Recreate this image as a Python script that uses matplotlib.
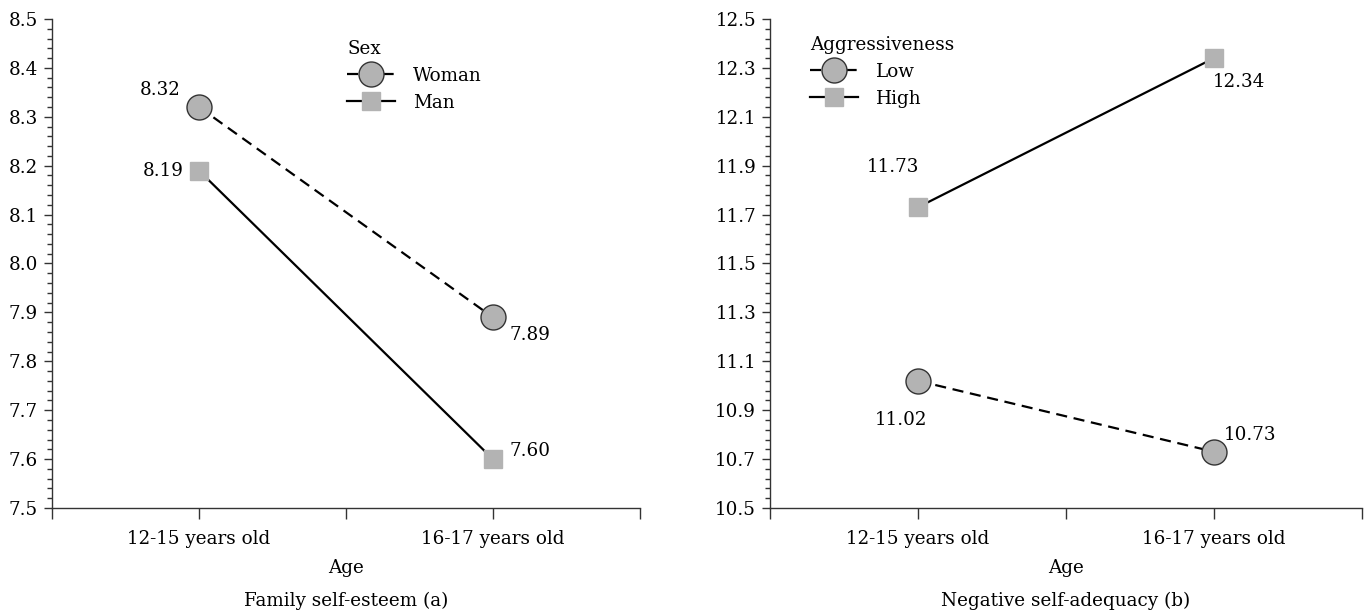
import numpy as np
import matplotlib.pyplot as plt

plt.rcParams['font.family'] = ['DejaVu Serif']
plt.rcParams['font.size'] = 13.2

# dados
idades = ["12-15 years old", "16-17 years old"]
pos = [1, 3]

# painel (a) - autoestima familiar
mulher = [8.32, 7.89]
homem = [8.19, 7.60]

# painel (b) - autoadequacao negativa
baixa = [11.02, 10.73]
alta = [11.73, 12.34]

cinza = "#b3b3b3"
escuro = "#333333"

fig = plt.figure(figsize=(13.64, 6.13), dpi=100)
ax1 = fig.add_axes([0.0381, 0.1713, 0.431, 0.7977])
ax2 = fig.add_axes([0.5645, 0.1713, 0.434, 0.7977])


def estilo(ax, ylim, major, minor):
    ax.set_xlim(0, 4)
    ax.set_ylim(*ylim)
    ax.set_xticks([0, 1, 2, 3, 4])
    ax.set_xticklabels(["", idades[0], "", idades[1], ""])
    ax.set_yticks(np.arange(ylim[0], ylim[1] + 1e-9, major))
    ax.set_yticks(np.arange(ylim[0], ylim[1] + 1e-9, minor), minor=True)
    ax.yaxis.set_major_formatter(lambda v, p: f"{v:.1f}")
    for s in ["top", "right"]:
        ax.spines[s].set_visible(False)
    for s in ["left", "bottom"]:
        ax.spines[s].set_color(escuro)
        ax.spines[s].set_linewidth(1.0)
    ax.tick_params(axis="x", length=8, width=1, color=escuro, pad=8)
    ax.tick_params(axis="y", which="major", length=6, width=1, color=escuro, pad=4)
    ax.tick_params(axis="y", which="minor", length=3.5, width=1, color=escuro)
    ax.set_xlabel("Age", labelpad=8)


def rotulo(ax, x, y, dx, dy):
    ax.annotate(f"{y:.2f}", (x, y), xytext=(dx, dy), textcoords="offset points",
                ha="center", va="center")


tracejado = (0, (5, 3))

# painel (a)
estilo(ax1, (7.5, 8.5), 0.1, 0.02)
ax1.plot(pos, mulher, color="black", lw=1.6, ls=tracejado, marker="o", ms=18,
         mfc=cinza, mec=escuro, mew=1, label="Woman")
ax1.plot(pos, homem, color="black", lw=1.6, marker="s", ms=13,
         mfc=cinza, mec=cinza, label="Man")
rotulo(ax1, pos[0], mulher[0], -28, 12)
rotulo(ax1, pos[1], mulher[1], 27, -13)
rotulo(ax1, pos[0], homem[0], -26, 0)
rotulo(ax1, pos[1], homem[1], 27, 6)
leg1 = ax1.legend(title="Sex", loc="upper left", bbox_to_anchor=(0.49, 0.972),
                  frameon=False, handlelength=2.6, labelspacing=0.48,
                  borderaxespad=0, handletextpad=1.0)
leg1._legend_box.align = "left"
ax1.text(0.5, -0.172, "Family self-esteem (a)", transform=ax1.transAxes,
         ha="center", va="top")

# painel (b)
estilo(ax2, (10.5, 12.5), 0.2, 0.04)
ax2.plot(pos, baixa, color="black", lw=1.6, ls=tracejado, marker="o", ms=18,
         mfc=cinza, mec=escuro, mew=1, label="Low")
ax2.plot(pos, alta, color="black", lw=1.6, marker="s", ms=13,
         mfc=cinza, mec=cinza, label="High")
rotulo(ax2, pos[0], alta[0], -18, 29)
rotulo(ax2, pos[1], alta[1], 18, -17)
rotulo(ax2, pos[0], baixa[0], -12, -28)
rotulo(ax2, pos[1], baixa[1], 26, 12)
leg2 = ax2.legend(title="Aggressiveness", loc="upper left", bbox_to_anchor=(0.055, 0.98),
                  frameon=False, handlelength=2.6, labelspacing=0.48,
                  borderaxespad=0, handletextpad=1.0)
leg2._legend_box.align = "left"
ax2.text(0.5, -0.172, "Negative self-adequacy (b)", transform=ax2.transAxes,
         ha="center", va="top")

fig.savefig("out.png", dpi=100)
